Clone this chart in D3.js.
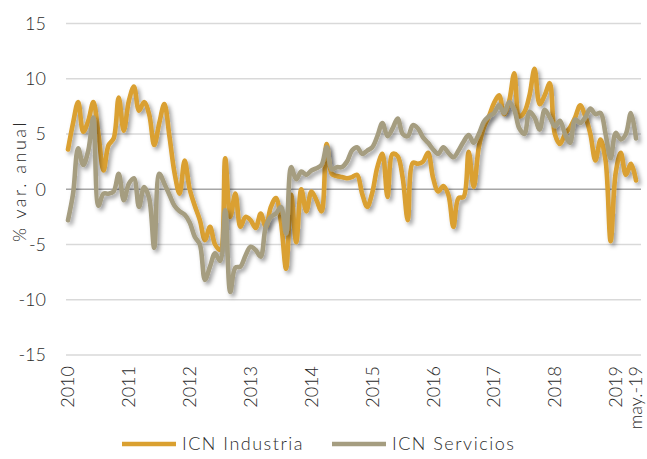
<!DOCTYPE html>
<html>
<head>
<meta charset="utf-8">
<script src="https://cdn.jsdelivr.net/npm/d3@7"></script>
<style>
  body { margin: 0; background: #fff; }
  svg text { font-family: Lato, "Open Sans", sans-serif; font-weight: 300; fill: #2b2b2b; }
</style>
</head>
<body>
<div id="chartArea"></div>
<script>
// monthly data, Jan 2010 .. May 2019
const industria = [
  3.6, 6.0, 7.9, 5.2, 6.2, 7.9, 5.0, 1.7, 4.0, 4.6, 8.3, 5.3,
  8.0, 9.3, 7.1, 7.9, 6.8, 4.0, 6.0, 7.7, 4.8, 1.5, -0.4, 2.6,
  0.0, -1.5, -2.8, -4.6, -3.4, -5.0, -5.5, 2.8, -2.5, -0.4, -3.4, -2.5,
  -2.8, -3.5, -2.2, -3.4, -1.6, -0.8, -3.0, -7.2, -0.5, -4.8, 0.0, -2.0,
  -0.2, -1.0, -2.0, 4.1, 1.4, 1.2, 1.1, 1.0, 1.1, 1.3, -0.4, -1.6,
  -0.3, 2.0, 3.2, -0.7, 3.2, 3.0, 1.0, -2.8, 2.4, 2.3, 2.5, 3.3,
  1.0, -0.2, 0.3, -0.5, -3.4, -0.8, -0.7, 3.4, 0.2, 3.8, 5.6, 6.6,
  7.8, 8.5, 6.8, 8.0, 10.5, 6.6, 7.0, 8.5, 10.9, 7.7, 8.5, 9.6,
  5.0, 4.1, 5.0, 5.6, 6.5, 7.6, 6.6, 5.0, 2.6, 4.5, 2.6, -4.7,
  1.5, 3.3, 1.3, 2.3, 0.8
];
const servicios = [
  -2.8, -0.4, 3.7, 2.2, 3.5, 6.5, -1.5, -0.4, -0.4, -0.2, 1.4, -1.0,
  0.5, 1.0, -1.6, 0.2, -0.8, -5.3, 1.4, 0.5, -0.5, -1.5, -2.0, -2.3,
  -3.0, -4.3, -5.0, -8.2, -7.0, -5.8, -6.5, -1.9, -9.3, -7.1, -7.0, -6.0,
  -5.2, -5.5, -6.1, -3.4, -2.5, -2.2, -1.6, -4.0, 2.0, 0.9, 1.6, 1.3,
  1.7, 1.9, 2.2, 3.8, 1.8, 2.0, 2.0, 2.5, 3.5, 3.8, 3.2, 3.5,
  3.8, 4.8, 6.0, 4.8, 5.5, 6.4, 5.0, 4.8, 5.8, 5.5, 4.7, 4.2,
  3.6, 3.2, 3.8, 3.3, 2.9, 3.5, 4.3, 4.9, 4.2, 5.0, 6.1, 6.6,
  6.9, 7.6, 6.9, 7.9, 7.2, 5.5, 5.0, 7.0, 6.5, 5.4, 7.2, 6.5,
  5.7, 6.2, 5.0, 4.2, 6.3, 6.0, 6.5, 7.3, 6.8, 6.9, 5.0, 2.8,
  5.1, 4.5, 5.0, 6.9, 4.6
];
const yTicks = [-15, -10, -5, 0, 5, 10, 15];
const xLabels = ["2010", "2011", "2012", "2013", "2014", "2015", "2016", "2017", "2018", "2019"];
const lastLabel = "may.-19";
const seriesNames = ["ICN Industria", "ICN Servicios"];

//color pallete
const orange = "#DAA030";
const khaki = "#A59D80";
const grid = "#D9D9D9";
const zeroLine = "#A6A6A6";

const W = 647, H = 459;
const left = 66, right = 641;

const svg = d3.select("#chartArea").append("svg")
  .attr("width", W)
  .attr("height", H);

const defs = svg.append("defs");
const shadow = defs.append("filter").attr("id", "shadow")
  .attr("x", "-10%").attr("y", "-10%").attr("width", "120%").attr("height", "130%");
shadow.append("feDropShadow")
  .attr("dx", 2.5).attr("dy", 3).attr("stdDeviation", 2.2)
  .attr("flood-color", "#000").attr("flood-opacity", 0.38);

const months = d3.range(industria.length);
const x = d3.scalePoint().domain(months).range([68, 636]);
const y = d3.scaleLinear().domain([-15, 15]).range([355, 23.5]);

// gridlines
svg.append("g").selectAll("line")
  .data(yTicks)
  .enter().append("line")
    .attr("x1", left).attr("x2", right)
    .attr("y1", d => y(d)).attr("y2", d => y(d))
    .attr("stroke", d => d === 0 ? zeroLine : grid)
    .attr("stroke-width", d => d === 0 ? 1.5 : 1.3);

// y tick labels
svg.append("g").selectAll("text")
  .data(yTicks)
  .enter().append("text")
    .attr("x", 46)
    .attr("y", d => y(d))
    .attr("dy", "0.36em")
    .attr("text-anchor", "end")
    .attr("font-size", "18px")
    .text(d => d);

// y axis title
svg.append("text")
  .attr("transform", "translate(20," + 181 + ") rotate(-90)")
  .attr("text-anchor", "middle")
  .attr("dy", "0.36em")
  .attr("font-size", "18px")
  .attr("letter-spacing", "2.5px")
  .text("% var. anual");

// x labels: January of each year plus last month
const xTickIdx = xLabels.map((d, i) => i * 12);
const xTickData = xLabels.map((d, i) => ({ idx: xTickIdx[i], label: d }))
  .concat([{ idx: months[months.length - 1], label: lastLabel }]);

svg.append("g").selectAll("text")
  .data(xTickData)
  .enter().append("text")
    .attr("transform", d => "translate(" + x(d.idx) + ",366) rotate(-90)")
    .attr("text-anchor", "end")
    .attr("dy", "0.36em")
    .attr("font-size", "18px")
    .text(d => d.label);

// lines
const line = d3.line()
  .x((d, i) => x(i))
  .y(d => y(d))
  .curve(d3.curveCatmullRom.alpha(0.5));

svg.append("path")
  .datum(industria)
  .attr("d", line)
  .attr("fill", "none")
  .attr("stroke", orange)
  .attr("stroke-width", 4.6)
  .attr("stroke-linejoin", "round")
  .attr("stroke-linecap", "round")
  .attr("filter", "url(#shadow)");

svg.append("path")
  .datum(servicios)
  .attr("d", line)
  .attr("fill", "none")
  .attr("stroke", khaki)
  .attr("stroke-width", 4.6)
  .attr("stroke-linejoin", "round")
  .attr("stroke-linecap", "round")
  .attr("filter", "url(#shadow)");

// legend
const legend = svg.append("g");
const legendItems = [
  { name: seriesNames[0], color: orange, x0: 122 },
  { name: seriesNames[1], color: khaki, x0: 332 }
];
legendItems.forEach(function (d) {
  legend.append("line")
    .attr("x1", d.x0).attr("x2", d.x0 + 54)
    .attr("y1", 444).attr("y2", 444)
    .attr("stroke", d.color)
    .attr("stroke-width", 4.6);
  legend.append("text")
    .attr("x", d.x0 + 60)
    .attr("y", 444)
    .attr("dy", "0.36em")
    .attr("font-size", "18px")
    .attr("letter-spacing", "1.5px")
    .text(d.name);
});
</script>
</body>
</html>
